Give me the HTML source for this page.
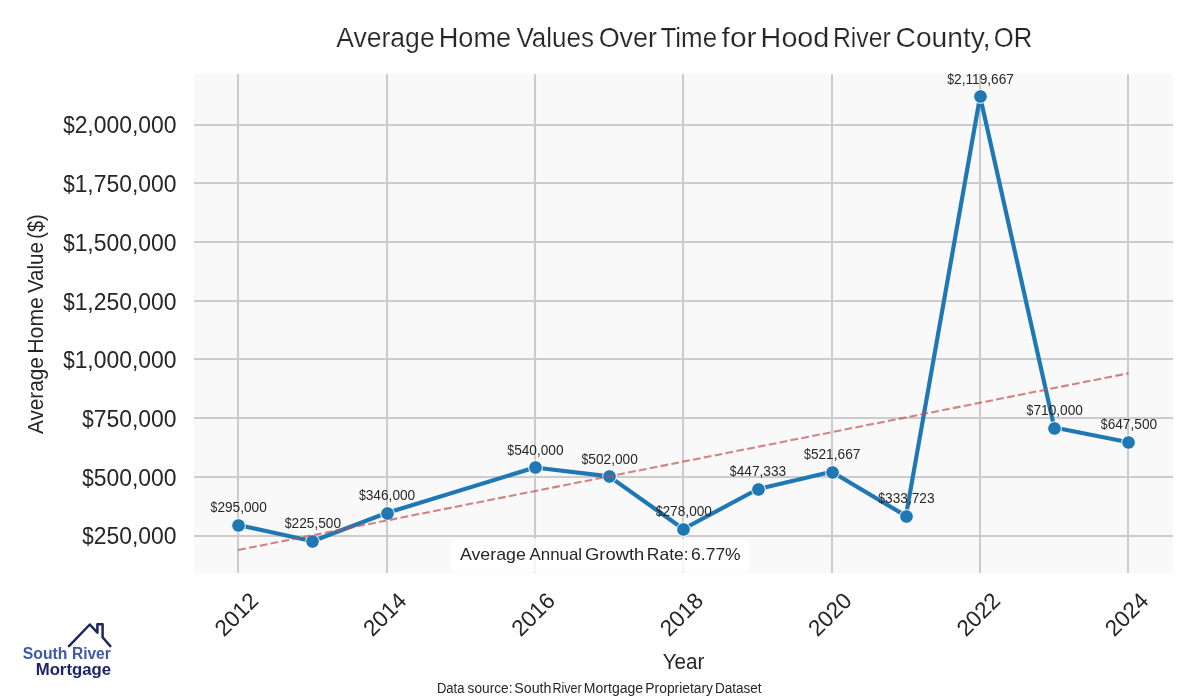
<!DOCTYPE html>
<html lang="en"><head><meta charset="utf-8"><title>Average Home Values Over Time for Hood River County, OR</title>
<style>
html,body{margin:0;padding:0;background:#fff;}
body{width:1200px;height:700px;overflow:hidden;}
svg{display:block;font-family:"Liberation Sans",sans-serif;}
</style></head><body>
<svg width="1200" height="700" viewBox="0 0 1200 700">
<rect x="0" y="0" width="1200" height="700" fill="#ffffff"/>
<rect x="194.0" y="74.0" width="979.0" height="499.00" fill="#f9f9f9"/>
<g stroke="#cccccc" stroke-width="2.08" fill="none">
<line x1="238" y1="74.0" x2="238" y2="573.0"/>
<line x1="387" y1="74.0" x2="387" y2="573.0"/>
<line x1="535" y1="74.0" x2="535" y2="573.0"/>
<line x1="683" y1="74.0" x2="683" y2="573.0"/>
<line x1="832" y1="74.0" x2="832" y2="573.0"/>
<line x1="980" y1="74.0" x2="980" y2="573.0"/>
<line x1="1128" y1="74.0" x2="1128" y2="573.0"/>
<line x1="194.0" y1="536" x2="1173.0" y2="536"/>
<line x1="194.0" y1="477" x2="1173.0" y2="477"/>
<line x1="194.0" y1="418" x2="1173.0" y2="418"/>
<line x1="194.0" y1="359" x2="1173.0" y2="359"/>
<line x1="194.0" y1="301" x2="1173.0" y2="301"/>
<line x1="194.0" y1="242" x2="1173.0" y2="242"/>
<line x1="194.0" y1="183" x2="1173.0" y2="183"/>
<line x1="194.0" y1="125" x2="1173.0" y2="125"/>
</g>
<polyline points="238.20,525.00 312.39,541.32 386.58,513.02 534.96,467.46 609.15,476.38 683.34,528.99 757.53,489.22 831.72,471.76 905.91,515.90 980.10,96.46 1054.29,427.53 1128.48,442.21" fill="none" stroke="#1f77b4" stroke-width="4.17" stroke-linejoin="round" stroke-linecap="butt"/>
<circle cx="238.50" cy="525.50" r="6.85" fill="#1f77b4" stroke="#ffffff" stroke-width="1.0"/>
<circle cx="312.50" cy="541.50" r="6.85" fill="#1f77b4" stroke="#ffffff" stroke-width="1.0"/>
<circle cx="387.50" cy="513.50" r="6.85" fill="#1f77b4" stroke="#ffffff" stroke-width="1.0"/>
<circle cx="535.50" cy="467.50" r="6.85" fill="#1f77b4" stroke="#ffffff" stroke-width="1.0"/>
<circle cx="609.50" cy="476.50" r="6.85" fill="#1f77b4" stroke="#ffffff" stroke-width="1.0"/>
<circle cx="683.50" cy="529.50" r="6.85" fill="#1f77b4" stroke="#ffffff" stroke-width="1.0"/>
<circle cx="758.50" cy="489.50" r="6.85" fill="#1f77b4" stroke="#ffffff" stroke-width="1.0"/>
<circle cx="832.50" cy="472.50" r="6.85" fill="#1f77b4" stroke="#ffffff" stroke-width="1.0"/>
<circle cx="906.50" cy="516.50" r="6.85" fill="#1f77b4" stroke="#ffffff" stroke-width="1.0"/>
<circle cx="980.50" cy="96.50" r="6.85" fill="#1f77b4" stroke="#ffffff" stroke-width="1.0"/>
<circle cx="1054.50" cy="428.50" r="6.85" fill="#1f77b4" stroke="#ffffff" stroke-width="1.0"/>
<circle cx="1128.50" cy="442.50" r="6.85" fill="#1f77b4" stroke="#ffffff" stroke-width="1.0"/>
<line x1="238.20" y1="549.97" x2="1128.48" y2="373.26" stroke="#c44e52" stroke-opacity="0.7" stroke-width="2.08" stroke-dasharray="7.71 3.33"/>
<text y="512.00" font-size="15.07" fill="#262626"><tspan x="210.51" textLength="6.85" lengthAdjust="spacingAndGlyphs">$</tspan><tspan x="217.38" textLength="49.46" lengthAdjust="spacingAndGlyphs">295,000</tspan></text>
<text y="528.00" font-size="15.07" fill="#262626"><tspan x="284.70" textLength="6.85" lengthAdjust="spacingAndGlyphs">$</tspan><tspan x="291.57" textLength="49.46" lengthAdjust="spacingAndGlyphs">225,500</tspan></text>
<text y="500.00" font-size="15.07" fill="#262626"><tspan x="358.89" textLength="6.85" lengthAdjust="spacingAndGlyphs">$</tspan><tspan x="365.76" textLength="49.46" lengthAdjust="spacingAndGlyphs">346,000</tspan></text>
<text y="455.00" font-size="15.07" fill="#262626"><tspan x="507.27" textLength="6.85" lengthAdjust="spacingAndGlyphs">$</tspan><tspan x="514.14" textLength="49.46" lengthAdjust="spacingAndGlyphs">540,000</tspan></text>
<text y="464.00" font-size="15.07" fill="#262626"><tspan x="581.46" textLength="6.85" lengthAdjust="spacingAndGlyphs">$</tspan><tspan x="588.33" textLength="49.46" lengthAdjust="spacingAndGlyphs">502,000</tspan></text>
<text y="516.00" font-size="15.07" fill="#262626"><tspan x="655.65" textLength="6.85" lengthAdjust="spacingAndGlyphs">$</tspan><tspan x="662.52" textLength="49.46" lengthAdjust="spacingAndGlyphs">278,000</tspan></text>
<text y="476.00" font-size="15.07" fill="#262626"><tspan x="729.84" textLength="6.85" lengthAdjust="spacingAndGlyphs">$</tspan><tspan x="736.71" textLength="49.46" lengthAdjust="spacingAndGlyphs">447,333</tspan></text>
<text y="459.00" font-size="15.07" fill="#262626"><tspan x="804.03" textLength="6.85" lengthAdjust="spacingAndGlyphs">$</tspan><tspan x="810.90" textLength="49.46" lengthAdjust="spacingAndGlyphs">521,667</tspan></text>
<text y="503.00" font-size="15.07" fill="#262626"><tspan x="878.22" textLength="6.85" lengthAdjust="spacingAndGlyphs">$</tspan><tspan x="885.09" textLength="49.46" lengthAdjust="spacingAndGlyphs">333,723</tspan></text>
<text y="84.00" font-size="15.07" fill="#262626"><tspan x="947.21" textLength="6.85" lengthAdjust="spacingAndGlyphs">$</tspan><tspan x="954.08" textLength="59.85" lengthAdjust="spacingAndGlyphs">2,119,667</tspan></text>
<text y="415.00" font-size="15.07" fill="#262626"><tspan x="1026.60" textLength="6.85" lengthAdjust="spacingAndGlyphs">$</tspan><tspan x="1033.47" textLength="49.46" lengthAdjust="spacingAndGlyphs">710,000</tspan></text>
<text y="429.00" font-size="15.07" fill="#262626"><tspan x="1100.79" textLength="6.85" lengthAdjust="spacingAndGlyphs">$</tspan><tspan x="1107.66" textLength="49.46" lengthAdjust="spacingAndGlyphs">647,500</tspan></text>
<rect x="450.5" y="538.5" width="299" height="34" rx="6.5" ry="6.5" fill="#ffffff" fill-opacity="0.8"/>
<text y="559.80" font-size="17.00" fill="#262626"><tspan x="459.97" textLength="65.82" lengthAdjust="spacingAndGlyphs">Average</tspan> <tspan x="529.47" textLength="52.66" lengthAdjust="spacingAndGlyphs">Annual</tspan> <tspan x="585.08" textLength="59.11" lengthAdjust="spacingAndGlyphs">Growth</tspan> <tspan x="646.87" textLength="41.73" lengthAdjust="spacingAndGlyphs">Rate:</tspan> <tspan x="691.11" textLength="49.51" lengthAdjust="spacingAndGlyphs">6.77%</tspan></text>
<text y="544.00" font-size="23.84" fill="#262626"><tspan x="82.24" textLength="11.47" lengthAdjust="spacingAndGlyphs">$</tspan><tspan x="93.75" textLength="82.85" lengthAdjust="spacingAndGlyphs">250,000</tspan></text>
<text y="486.00" font-size="23.84" fill="#262626"><tspan x="82.24" textLength="11.47" lengthAdjust="spacingAndGlyphs">$</tspan><tspan x="93.75" textLength="82.85" lengthAdjust="spacingAndGlyphs">500,000</tspan></text>
<text y="427.00" font-size="23.84" fill="#262626"><tspan x="82.24" textLength="11.47" lengthAdjust="spacingAndGlyphs">$</tspan><tspan x="93.75" textLength="82.85" lengthAdjust="spacingAndGlyphs">750,000</tspan></text>
<text y="368.00" font-size="23.84" fill="#262626"><tspan x="63.13" textLength="11.47" lengthAdjust="spacingAndGlyphs">$</tspan><tspan x="74.64" textLength="101.96" lengthAdjust="spacingAndGlyphs">1,000,000</tspan></text>
<text y="310.00" font-size="23.84" fill="#262626"><tspan x="63.13" textLength="11.47" lengthAdjust="spacingAndGlyphs">$</tspan><tspan x="74.64" textLength="101.96" lengthAdjust="spacingAndGlyphs">1,250,000</tspan></text>
<text y="251.00" font-size="23.84" fill="#262626"><tspan x="63.13" textLength="11.47" lengthAdjust="spacingAndGlyphs">$</tspan><tspan x="74.64" textLength="101.96" lengthAdjust="spacingAndGlyphs">1,500,000</tspan></text>
<text y="192.00" font-size="23.84" fill="#262626"><tspan x="63.13" textLength="11.47" lengthAdjust="spacingAndGlyphs">$</tspan><tspan x="74.64" textLength="101.96" lengthAdjust="spacingAndGlyphs">1,750,000</tspan></text>
<text y="133.00" font-size="23.84" fill="#262626"><tspan x="63.13" textLength="11.47" lengthAdjust="spacingAndGlyphs">$</tspan><tspan x="74.64" textLength="101.96" lengthAdjust="spacingAndGlyphs">2,000,000</tspan></text>
<text transform="translate(236.25,614.25) rotate(-45)" x="-25.14" y="7.9" font-size="22.60" fill="#262626">2012</text>
<text transform="translate(384.63,614.25) rotate(-45)" x="-25.14" y="7.9" font-size="22.60" fill="#262626">2014</text>
<text transform="translate(533.01,614.25) rotate(-45)" x="-25.14" y="7.9" font-size="22.60" fill="#262626">2016</text>
<text transform="translate(681.39,614.25) rotate(-45)" x="-25.14" y="7.9" font-size="22.60" fill="#262626">2018</text>
<text transform="translate(829.77,614.25) rotate(-45)" x="-25.14" y="7.9" font-size="22.60" fill="#262626">2020</text>
<text transform="translate(978.15,614.25) rotate(-45)" x="-25.14" y="7.9" font-size="22.60" fill="#262626">2022</text>
<text transform="translate(1126.53,614.25) rotate(-45)" x="-25.14" y="7.9" font-size="22.60" fill="#262626">2024</text>
<text y="47.00" font-size="27.70" fill="#262626" stroke="#ffffff" stroke-width="0.2"><tspan x="336.15" textLength="98.53" lengthAdjust="spacingAndGlyphs">Average</tspan> <tspan x="438.77" textLength="72.43" lengthAdjust="spacingAndGlyphs">Home</tspan> <tspan x="516.39" textLength="77.55" lengthAdjust="spacingAndGlyphs">Values</tspan> <tspan x="598.73" textLength="58.22" lengthAdjust="spacingAndGlyphs">Over</tspan> <tspan x="660.42" textLength="56.74" lengthAdjust="spacingAndGlyphs">Time</tspan> <tspan x="721.58" textLength="34.92" lengthAdjust="spacingAndGlyphs">for</tspan> <tspan x="760.64" textLength="68.71" lengthAdjust="spacingAndGlyphs">Hood</tspan> <tspan x="832.97" textLength="57.74" lengthAdjust="spacingAndGlyphs">River</tspan> <tspan x="895.57" textLength="94.96" lengthAdjust="spacingAndGlyphs">County,</tspan> <tspan x="993.79" textLength="38.40" lengthAdjust="spacingAndGlyphs">OR</tspan></text>
<text y="668.80" font-size="21.60" fill="#262626"><tspan x="662.65" textLength="41.70" lengthAdjust="spacingAndGlyphs">Year</tspan></text>
<text y="0.00" font-size="21.60" fill="#262626" transform="translate(43.0,434) rotate(-90)"><tspan x="-0.04" textLength="76.96" lengthAdjust="spacingAndGlyphs">Average</tspan> <tspan x="80.26" textLength="56.69" lengthAdjust="spacingAndGlyphs">Home</tspan> <tspan x="140.91" textLength="51.00" lengthAdjust="spacingAndGlyphs">Value</tspan> <tspan x="195.26" textLength="24.48" lengthAdjust="spacingAndGlyphs">($)</tspan></text>
<text y="692.50" font-size="13.80" fill="#262626"><tspan x="436.93" textLength="27.57" lengthAdjust="spacingAndGlyphs">Data</tspan> <tspan x="467.62" textLength="44.93" lengthAdjust="spacingAndGlyphs">source:</tspan> <tspan x="514.36" textLength="37.07" lengthAdjust="spacingAndGlyphs">South</tspan> <tspan x="552.47" textLength="29.24" lengthAdjust="spacingAndGlyphs">River</tspan> <tspan x="583.85" textLength="59.27" lengthAdjust="spacingAndGlyphs">Mortgage</tspan> <tspan x="645.37" textLength="67.66" lengthAdjust="spacingAndGlyphs">Proprietary</tspan> <tspan x="714.89" textLength="46.71" lengthAdjust="spacingAndGlyphs">Dataset</tspan></text>
<path d="M69.0,646.1 L89.8,624.5 L97.4,632.7 L97.4,624.2 L102.6,624.2 L102.6,637.3 L110.3,646.1" fill="none" stroke="#1f2466" stroke-width="2.5" stroke-linecap="round" stroke-linejoin="round"/>
<text y="659.00" font-size="16.00" fill="#3f58a8" font-weight="bold"><tspan x="22.85" textLength="44.63" lengthAdjust="spacingAndGlyphs">South</tspan> <tspan x="71.96" textLength="38.77" lengthAdjust="spacingAndGlyphs">River</tspan></text>
<text y="674.60" font-size="16.20" fill="#1f2466" font-weight="bold"><tspan x="35.68" textLength="75.39" lengthAdjust="spacingAndGlyphs">Mortgage</tspan></text>
</svg></body></html>
